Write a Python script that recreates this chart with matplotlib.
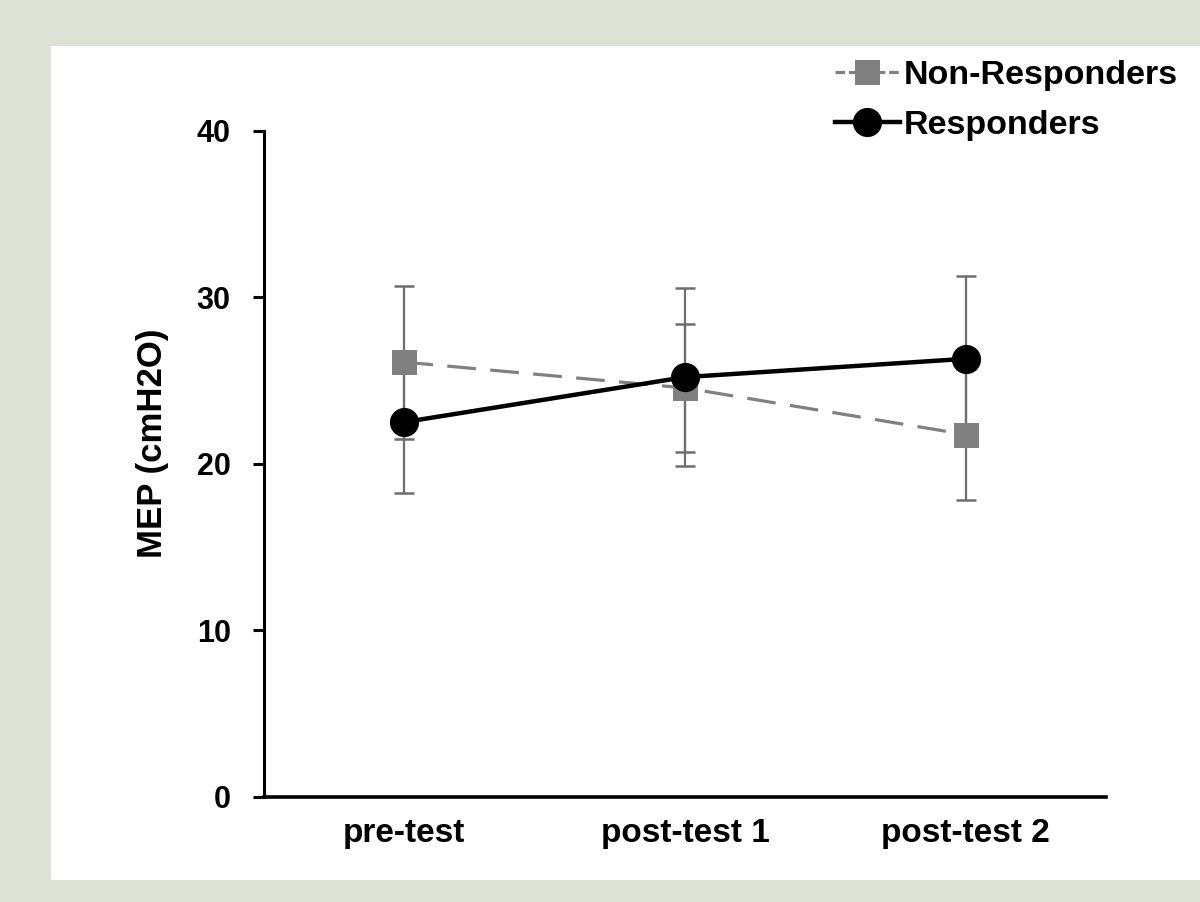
#!/usr/bin/env python3
"""MEP over time for responders vs non-responders."""

import matplotlib
matplotlib.use("Agg")
import matplotlib.pyplot as plt
from matplotlib.patches import Rectangle
from matplotlib.lines import Line2D

# Data
phases = ["pre-test", "post-test 1", "post-test 2"]
nonresp_mean = [26.1, 24.55, 21.75]
nonresp_err = [4.6, 3.85, 3.95]
resp_mean = [22.5, 25.2, 26.3]
resp_err = [4.25, 5.35, 5.0]
yticks = [0, 10, 20, 30, 40]

plt.rcParams["font.family"] = ["Liberation Sans", "DejaVu Sans"]
plt.rcParams["font.weight"] = "bold"

fig = plt.figure(figsize=(12, 9.02), dpi=100)
fig.patch.set_facecolor("#dde2d7")
# white chart area inside the grey-green frame
fig.patches.append(Rectangle((51 / 1200, 1 - 880 / 902), 1 - 51 / 1200, (880 - 46) / 902,
                             transform=fig.transFigure, facecolor="white",
                             edgecolor="none", zorder=-5))

ax = fig.add_axes([264 / 1200, 1 - 796.7 / 902, (1106 - 264) / 1200, (796.7 - 130.7) / 902])
ax.set_facecolor("none")
ax.set_zorder(2)

x = range(len(phases))
err_style = dict(fmt="none", ecolor="#6e6e6e", elinewidth=1.6, capsize=7.5, capthick=1.8)
nr_style = dict(color="#808080", linestyle=(0, (9, 4.5)), linewidth=2.3,
                marker="s", markersize=18, markeredgewidth=0)
r_style = dict(color="black", linestyle="-", linewidth=3.2,
               marker="o", markersize=21, markeredgewidth=0)

# error bars first, then the lines with markers on top
ax.errorbar(x, nonresp_mean, yerr=nonresp_err, zorder=2, **err_style)
ax.errorbar(x, resp_mean, yerr=resp_err, zorder=2, **err_style)
ax.plot(x, nonresp_mean, zorder=3, **nr_style)
ax.plot(x, resp_mean, zorder=4, **r_style)

ax.set_xlim(-0.5, 2.5)
ax.set_ylim(0, 40)
ax.set_yticks(yticks)
ax.set_xticks(list(x))
ax.set_xticklabels(phases, fontsize=24, fontweight="bold")
ax.tick_params(axis="y", labelsize=22, length=8, width=2.2, pad=16, direction="out")
ax.tick_params(axis="x", length=0, pad=15)
for lbl in ax.get_yticklabels():
    lbl.set_fontweight("bold")

for side in ["top", "right"]:
    ax.spines[side].set_visible(False)
ax.spines["left"].set_linewidth(2.2)
ax.spines["bottom"].set_linewidth(2.6)

ax.set_ylabel("MEP (cmH2O)", fontsize=25, fontweight="bold")
ax.yaxis.set_label_coords(-0.113, 0.53)

handles = [Line2D([], [], **dict(nr_style, linestyle=(0, (3, 1.2)))),
           Line2D([], [], **r_style)]
leg = fig.legend(handles, ["Non-Responders", "Responders"], loc="upper left",
                 bbox_to_anchor=(835 / 1200, 1 - 60 / 902),
                 frameon=False, fontsize=24.5, handlelength=1.9, handletextpad=0.12,
                 labelspacing=0.55, borderpad=0, borderaxespad=0)
for t in leg.get_texts():
    t.set_fontweight("bold")

fig.savefig("out.png", dpi=100, facecolor=fig.get_facecolor())
